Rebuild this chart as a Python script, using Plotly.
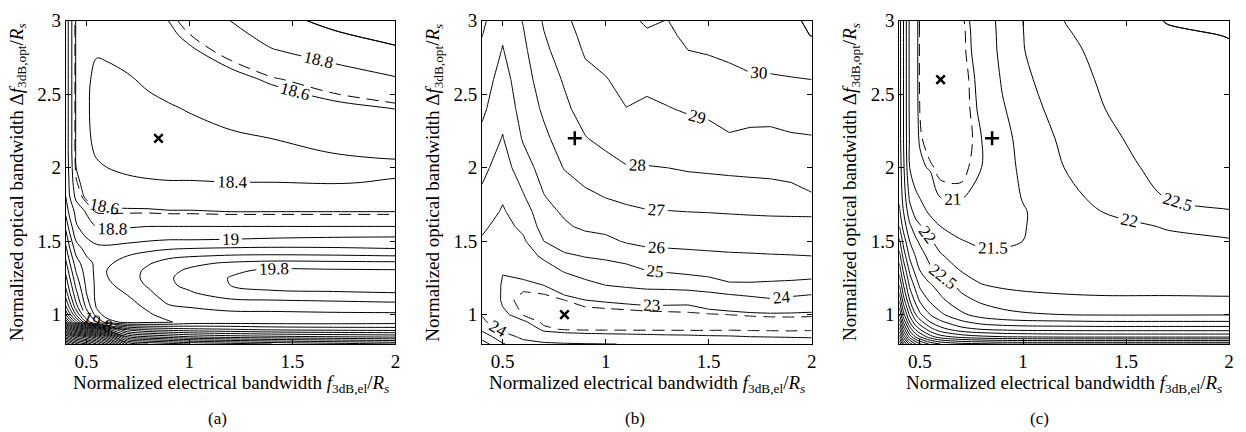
import numpy as np
import plotly.graph_objects as go

FONT = "Liberation Serif"
W, H = 1246, 432

# ---------------- Panel (a) ----------------
# grid reaches a little past the visible axes (x 0.4-2.0, y 0.8-3.0)
x_a = [0.40, 0.42, 0.45, 0.50, 0.55, 0.60, 0.70, 0.80, 0.90, 1.00, 1.20, 1.40, 1.70, 2.00, 2.10]
y_a = [0.80, 0.85, 0.90, 0.95, 1.00, 1.05, 1.10, 1.15, 1.20, 1.25, 1.30, 1.35, 1.40,
       1.45, 1.50, 1.60, 1.70, 1.80, 1.90, 2.00, 2.10, 2.20, 2.40, 2.60, 2.80, 2.90, 3.00, 3.10]
# one list per x value (bottom -> top)
z_a_cols = [
    [25.0, 24.0, 23.0, 21.8, 21.2, 20.85, 20.65, 20.5, 20.35, 20.25, 20.15, 20.05, 19.95, 19.85, 19.75, 19.55, 19.35, 19.2, 19.18, 19.16, 19.15, 19.15, 19.15, 19.15, 19.15, 19.15, 19.15, 19.15],
    [24.8, 23.8, 22.6, 21.4, 20.85, 20.55, 20.35, 20.2, 20.1, 20.0, 19.9, 19.8, 19.7, 19.6, 19.5, 19.3, 19.12, 19.0, 18.95, 18.92, 18.9, 18.9, 18.9, 18.9, 18.9, 18.9, 18.9, 18.9],
    [24.5, 23.5, 22.2, 20.9, 20.4, 20.1, 19.95, 19.85, 19.75, 19.66, 19.58, 19.5, 19.4, 19.3, 19.2, 19.02, 18.95, 18.75, 18.65, 18.6, 18.58, 18.58, 18.58, 18.58, 18.58, 18.58, 18.58, 18.58],
    [24.2, 23.2, 21.8, 20.2, 19.75, 19.56, 19.46, 19.4, 19.36, 19.33, 19.3, 19.26, 19.2, 19.12, 19.03, 18.9, 18.78, 18.56, 18.52, 18.48, 18.45, 18.43, 18.42, 18.42, 18.43, 18.44, 18.45, 18.46],
    [23.8, 22.8, 21.4, 19.6, 19.3, 19.18, 19.14, 19.14, 19.15, 19.15, 19.15, 19.16, 19.12, 19.05, 18.96, 18.79, 18.62, 18.57, 18.5, 18.43, 18.38, 18.36, 18.35, 18.37, 18.41, 18.45, 18.48, 18.51],
    [23.3, 22.3, 20.9, 19.3, 19.1, 19.07, 19.07, 19.1, 19.15, 19.19, 19.2, 19.17, 19.12, 19.04, 18.95, 18.76, 18.62, 18.55, 18.47, 18.4, 18.34, 18.31, 18.31, 18.35, 18.43, 18.47, 18.5, 18.53],
    [22.0, 21.0, 20.1, 19.12, 19.1, 19.12, 19.16, 19.22, 19.29, 19.32, 19.31, 19.27, 19.2, 19.08, 18.97, 18.78, 18.62, 18.53, 18.44, 18.36, 18.31, 18.3, 18.33, 18.38, 18.47, 18.5, 18.52, 18.54],
    [21.8, 20.8, 19.95, 19.15, 19.17, 19.23, 19.3, 19.36, 19.42, 19.45, 19.44, 19.38, 19.28, 19.14, 19.0, 18.8, 18.62, 18.52, 18.42, 18.34, 18.3, 18.31, 18.35, 18.43, 18.5, 18.53, 18.55, 18.57],
    [21.7, 20.7, 19.9, 19.18, 19.28, 19.37, 19.45, 19.52, 19.57, 19.58, 19.55, 19.48, 19.35, 19.18, 19.02, 18.8, 18.61, 18.51, 18.41, 18.33, 18.3, 18.32, 18.38, 18.47, 18.54, 18.57, 18.6, 18.63],
    [21.6, 20.6, 19.85, 19.28, 19.32, 19.4, 19.5, 19.58, 19.64, 19.66, 19.63, 19.55, 19.38, 19.2, 19.02, 18.8, 18.61, 18.51, 18.41, 18.33, 18.31, 18.33, 18.41, 18.5, 18.58, 18.63, 18.68, 18.73],
    [21.5, 20.5, 19.81, 19.3, 19.35, 19.45, 19.58, 19.72, 19.8, 19.81, 19.76, 19.63, 19.42, 19.22, 19.03, 18.8, 18.6, 18.5, 18.4, 18.34, 18.34, 18.37, 18.47, 18.55, 18.68, 18.74, 18.8, 18.86],
    [21.4, 20.45, 19.75, 19.3, 19.35, 19.46, 19.6, 19.76, 19.88, 19.92, 19.84, 19.67, 19.43, 19.23, 19.05, 18.8, 18.6, 18.5, 18.4, 18.34, 18.36, 18.4, 18.5, 18.62, 18.79, 18.86, 18.93, 18.99],
    [21.3, 20.4, 19.72, 19.3, 19.36, 19.48, 19.62, 19.78, 19.9, 19.92, 19.83, 19.66, 19.42, 19.22, 19.07, 18.8, 18.6, 18.5, 18.39, 18.35, 18.4, 18.45, 18.56, 18.7, 18.88, 18.97, 19.05, 19.13],
    [21.2, 20.35, 19.7, 19.32, 19.36, 19.5, 19.64, 19.8, 19.9, 19.9, 19.82, 19.65, 19.4, 19.2, 19.08, 18.8, 18.6, 18.5, 18.41, 18.37, 18.42, 18.47, 18.6, 18.78, 18.97, 19.06, 19.15, 19.24],
    [21.15, 20.3, 19.68, 19.33, 19.36, 19.5, 19.64, 19.8, 19.9, 19.9, 19.82, 19.65, 19.4, 19.2, 19.08, 18.8, 18.6, 18.5, 18.41, 18.37, 18.42, 18.48, 18.62, 18.81, 19.01, 19.1, 19.19, 19.28],
]
levels_a = [round(18.4 + 0.2 * k, 1) for k in range(34)]
labeled_a = [18.4, 18.6, 18.8, 19.0, 19.8]
dashed_a = 18.635
cross_a = dict(x=[0.85], y=[2.2])
# top-right corner piece of the 19 contour, traced on its own part of the grid
corner_a = dict(level=19.0, xi=11, yi=23)

# ---------------- Panel (b) ----------------
x_b = [0.40, 0.50, 0.60, 0.70, 0.80, 0.90, 1.00, 1.10, 1.20, 1.30, 1.40, 1.50, 1.60, 1.70, 1.80, 1.90, 2.00, 2.10]
y_b = [0.80, 0.85, 0.90, 0.95, 1.00, 1.10, 1.20, 1.30, 1.40, 1.50, 1.60, 1.70, 1.80,
       2.00, 2.20, 2.40, 2.60, 2.80, 2.90, 3.00, 3.10]
z_b_cols = [
    [26.5, 25.6, 24.8, 24.2, 23.95, 23.6, 23.5, 23.55, 23.7, 23.9, 24.15, 24.5, 24.8, 25.25, 25.75, 26.2, 26.5, 26.85, 27.02, 27.2, 27.35],
    [25.1, 24.4, 23.8, 23.35, 23.08, 22.93, 22.95, 23.02, 23.25, 23.5, 23.7, 23.9, 24.1, 24.55, 24.95, 25.3, 25.6, 25.95, 26.1, 26.25, 26.4],
    [24.3, 23.8, 23.4, 23.05, 22.83, 22.78, 22.9, 23.15, 23.5, 23.85, 24.2, 24.5, 24.9, 25.55, 26.1, 26.4, 26.6, 26.8, 26.92, 27.05, 27.2],
    [24.2, 23.3, 22.9, 22.8, 22.72, 22.75, 23.0, 23.5, 24.2, 25.0, 25.4, 25.65, 25.95, 26.4, 26.8, 27.15, 27.45, 27.8, 27.95, 28.1, 28.25],
    [24.1, 23.2, 22.83, 22.72, 22.68, 22.85, 23.3, 24.1, 24.85, 25.5, 25.85, 26.15, 26.45, 27.05, 27.45, 27.8, 28.1, 28.45, 28.62, 28.8, 29.0],
    [24.05, 23.15, 22.82, 22.7, 22.68, 23.0, 23.7, 24.45, 25.05, 25.55, 26.2, 26.5, 26.8, 27.4, 27.95, 28.4, 28.75, 29.1, 29.25, 29.4, 29.6],
    [24.02, 23.12, 22.82, 22.7, 22.7, 23.05, 24.0, 24.6, 25.15, 25.75, 26.3, 26.65, 27.02, 27.6, 28.3, 28.65, 28.95, 29.35, 29.52, 29.7, 29.95],
    [23.98, 23.1, 22.82, 22.7, 22.72, 23.1, 24.15, 24.75, 25.3, 26.1, 26.5, 26.85, 27.15, 27.95, 28.45, 28.98, 29.3, 29.55, 29.68, 29.8, 30.0],
    [23.95, 23.08, 22.82, 22.7, 22.75, 23.15, 24.3, 25.0, 25.7, 26.2, 26.55, 26.95, 27.25, 27.95, 28.6, 28.85, 29.2, 29.7, 29.9, 30.1, 30.3],
    [23.7, 23.06, 22.82, 22.7, 22.78, 23.12, 24.35, 25.1, 25.75, 26.22, 26.6, 26.97, 27.3, 28.0, 28.6, 28.95, 29.4, 29.7, 29.84, 29.98, 30.2],
    [23.8, 23.05, 22.82, 22.7, 22.8, 23.1, 24.45, 25.2, 25.8, 26.25, 26.65, 27.0, 27.35, 28.1, 28.55, 29.1, 29.5, 30.0, 30.18, 30.35, 30.6],
    [23.65, 23.03, 22.82, 22.7, 22.82, 23.3, 24.6, 25.3, 25.85, 26.28, 26.68, 27.02, 27.4, 28.15, 28.75, 29.15, 29.75, 30.05, 30.25, 30.45, 30.7],
    [23.6, 23.02, 22.83, 22.72, 22.85, 23.45, 24.9, 25.35, 25.9, 26.3, 26.7, 27.05, 27.45, 28.2, 28.9, 29.4, 29.8, 30.15, 30.32, 30.5, 30.75],
    [23.55, 23.0, 22.82, 22.72, 22.88, 23.7, 24.9, 25.38, 25.92, 26.33, 26.72, 27.08, 27.48, 28.25, 28.85, 29.25, 29.9, 30.3, 30.5, 30.7, 30.9],
    [23.5, 22.98, 22.82, 22.73, 22.9, 23.9, 24.85, 25.4, 25.95, 26.35, 26.75, 27.1, 27.5, 28.3, 28.8, 29.3, 29.9, 30.4, 30.7, 30.95, 31.1],
    [23.4, 22.96, 22.82, 22.74, 22.9, 23.75, 24.8, 25.4, 25.97, 26.38, 26.78, 27.1, 27.6, 28.4, 28.9, 29.4, 29.95, 30.5, 30.8, 30.9, 31.05],
    [23.3, 22.95, 22.83, 22.76, 22.88, 23.6, 24.7, 25.4, 26.0, 26.4, 26.8, 27.1, 27.9, 28.5, 28.95, 29.4, 30.0, 30.6, 31.02, 31.1, 31.2],
    [23.2, 22.93, 22.83, 22.77, 22.88, 23.6, 24.7, 25.4, 26.0, 26.4, 26.8, 27.1, 27.9, 28.5, 28.95, 29.4, 30.0, 30.65, 31.05, 31.15, 31.25],
]
levels_b = [23, 24, 25, 26, 27, 28, 29, 30, 31]
labeled_b = [23, 24, 25, 26, 27, 28, 29, 30]
dashed_b = 22.849
plus_b = dict(x=[0.85], y=[2.2])
cross_b = dict(x=[0.8], y=[1.0])
corner_b = dict(level=31.0, xi=12, yi=16)

# ---------------- Panel (c) ----------------
x_c = [0.40, 0.42, 0.45, 0.48, 0.50, 0.55, 0.60, 0.70, 0.80, 0.90, 1.00, 1.20, 1.40, 1.70, 2.00, 2.10]
y_c = [0.80, 0.85, 0.90, 0.95, 1.00, 1.10, 1.20, 1.30, 1.40, 1.50, 1.60, 1.70, 1.80,
       2.00, 2.20, 2.40, 2.60, 2.80, 2.90, 3.00, 3.10]
# one list per y value (bottom -> top)
z_c_rows = [
    [32.5, 31.2, 29.8, 29.0, 28.6, 27.9, 27.5, 27.2, 27.1, 27.0, 27.0, 27.0, 27.0, 27.0, 27.0, 27.0],
    [31.2, 29.8, 28.3, 27.4, 27.0, 26.2, 25.7, 25.3, 25.1, 25.0, 24.95, 24.9, 24.9, 24.9, 24.9, 24.9],
    [30.2, 28.8, 27.3, 26.4, 26.0, 25.2, 24.7, 24.2, 24.0, 23.9, 23.85, 23.82, 23.8, 23.8, 23.8, 23.8],
    [29.3, 27.9, 26.5, 25.6, 25.2, 24.5, 24.1, 23.6, 23.3, 23.18, 23.12, 23.08, 23.05, 23.05, 23.05, 23.05],
    [28.5, 27.2, 25.9, 25.0, 24.6, 24.0, 23.6, 23.1, 22.8, 22.65, 22.57, 22.5, 22.47, 22.47, 22.48, 22.49],
    [27.4, 26.2, 25.0, 24.3, 23.9, 23.4, 23.1, 22.65, 22.4, 22.25, 22.15, 22.08, 22.05, 22.05, 22.04, 22.04],
    [26.5, 25.5, 24.4, 23.8, 23.4, 23.05, 22.8, 22.35, 22.02, 21.93, 21.9, 21.88, 21.88, 21.88, 21.88, 21.89],
    [25.8, 24.9, 23.9, 23.3, 23.0, 22.62, 22.35, 21.98, 21.8, 21.74, 21.72, 21.75, 21.78, 21.82, 21.85, 21.87],
    [25.2, 24.3, 23.4, 22.95, 22.75, 22.3, 22.05, 21.75, 21.6, 21.57, 21.6, 21.7, 21.78, 21.85, 21.88, 21.9],
    [24.6, 23.8, 23.0, 22.6, 22.4, 22.05, 21.8, 21.52, 21.42, 21.44, 21.5, 21.68, 21.8, 21.9, 21.96, 22.0],
    [24.0, 23.3, 22.6, 22.2, 22.05, 21.7, 21.5, 21.35, 21.32, 21.38, 21.48, 21.7, 21.85, 22.03, 22.15, 22.2],
    [23.6, 23.0, 22.2, 21.8, 21.68, 21.42, 21.3, 21.2, 21.22, 21.33, 21.47, 21.75, 22.02, 22.32, 22.47, 22.5],
    [23.4, 22.8, 21.9, 21.6, 21.48, 21.2, 20.99, 20.98, 21.1, 21.32, 21.52, 21.85, 22.15, 22.52, 22.65, 22.68],
    [23.3, 22.6, 21.5, 21.15, 21.05, 20.97, 20.93, 20.93, 21.0, 21.3, 21.6, 22.0, 22.3, 22.65, 22.75, 22.78],
    [23.2, 22.5, 21.45, 21.07, 20.97, 20.9, 20.88, 20.9, 21.0, 21.35, 21.65, 22.1, 22.42, 22.7, 22.8, 22.83],
    [23.2, 22.5, 21.4, 21.05, 20.95, 20.88, 20.86, 20.9, 21.03, 21.45, 21.75, 22.25, 22.5, 22.75, 22.85, 22.88],
    [23.2, 22.5, 21.4, 21.05, 20.94, 20.87, 20.85, 20.9, 21.05, 21.55, 21.9, 22.3, 22.57, 22.8, 22.9, 22.93],
    [23.2, 22.5, 21.4, 21.05, 20.94, 20.88, 20.86, 20.92, 21.08, 21.65, 21.98, 22.4, 22.62, 22.85, 22.96, 23.0],
    [23.2, 22.5, 21.4, 21.05, 20.94, 20.89, 20.87, 20.92, 21.09, 21.67, 21.99, 22.45, 22.66, 22.93, 23.01, 23.05],
    [23.2, 22.5, 21.4, 21.05, 20.94, 20.9, 20.88, 20.93, 21.1, 21.7, 22.0, 22.5, 22.7, 23.02, 23.06, 23.1],
    [23.2, 22.5, 21.4, 21.05, 20.94, 20.92, 20.9, 20.95, 21.12, 21.75, 22.02, 22.55, 22.76, 23.1, 23.12, 23.15],
]
levels_c = [round(21 + 0.5 * k, 1) for k in range(24)]
labeled_c = [21.0, 21.5, 22.0, 22.5]
dashed_c = 20.955
cross_c = dict(x=[0.6], y=[2.6])
plus_c = dict(x=[0.85], y=[2.2])
corner_c = dict(level=23.0, xi=11, yi=16)

x_ticks = [0.5, 1, 1.5, 2]
x_ticktext = ["0.5", "1", "1.5", "2"]
y_ticks = [1, 1.5, 2, 2.5, 3]
y_ticktext = ["1", "1.5", "2", "2.5", "3"]
panel_letters = ["(a)", "(b)", "(c)"]
x_title = "Normalized electrical bandwidth <i>f</i><sub>3dB,el</sub>/<i>R<sub>s</sub></i>"
y_title = "Normalized optical bandwidth Δ<i>f</i><sub>3dB,opt</sub>/<i>R<sub>s</sub></i>"

# page-pixel layout of the three plot areas
panels_px = [(66, 397), (484, 815), (903, 1234)]
top_px, bot_px = 11, 342
letter_x_px = [218, 638, 1044]


def fx(px):
    return px / W


def fy(py):
    return 1 - py / H


z_a = np.array(z_a_cols).T.tolist()
z_b = np.array(z_b_cols).T.tolist()
z_c = z_c_rows

fig = go.Figure()


def add_level(xa, ya, x, y, z, lev, label, dash, smoothing):
    v = lev - 0.001
    fig.add_trace(go.Contour(
        x=x, y=y, z=z, xaxis=xa, yaxis=ya, autocontour=False, connectgaps=True,
        contours=dict(start=v, end=v, size=1, coloring="none", showlabels=label,
                      labelfont=dict(family=FONT, size=17, color="black"),
                      labelformat=".3~g"),
        line=dict(color="black", width=1, dash=dash, smoothing=smoothing),
        showscale=False, hoverinfo="skip"))


def add_panel(i, x, y, z, levels, labeled, dashed, smoothing, corner):
    xa = "x" if i == 0 else f"x{i+1}"
    ya = "y" if i == 0 else f"y{i+1}"
    for lev in levels:
        add_level(xa, ya, x, y, z, lev, any(abs(lev - q) < 1e-6 for q in labeled),
                  "solid", smoothing)
    add_level(xa, ya, x, y, z, dashed + 0.001, False, "12px,7px", smoothing)
    # corner piece of one level, traced on the top-right part of the same grid
    xi, yi = corner["xi"], corner["yi"]
    sub_z = [row[xi:] for row in z[yi:]]
    add_level(xa, ya, x[xi:], y[yi:], sub_z, corner["level"],
              any(abs(corner["level"] - q) < 1e-6 for q in labeled), "solid", smoothing)
    return xa, ya


def add_marker(xa, ya, pts, symbol, size):
    fig.add_trace(go.Scatter(
        x=pts["x"], y=pts["y"], xaxis=xa, yaxis=ya, mode="markers",
        marker=dict(symbol=symbol, size=size, color="black",
                    line=dict(color="black", width=2.5)),
        hoverinfo="skip", showlegend=False))


xa, ya = add_panel(0, x_a, y_a, z_a, levels_a, labeled_a, dashed_a, 1.0, corner_a)
add_marker(xa, ya, cross_a, "x-thin", 8.5)
xa, ya = add_panel(1, x_b, y_b, z_b, levels_b, labeled_b, dashed_b, 0.0, corner_b)
add_marker(xa, ya, plus_b, "cross-thin", 10)
add_marker(xa, ya, cross_b, "x-thin", 8.5)
xa, ya = add_panel(2, x_c, y_c, z_c, levels_c, labeled_c, dashed_c, 1.0, corner_c)
add_marker(xa, ya, cross_c, "x-thin", 8.5)
add_marker(xa, ya, plus_c, "cross-thin", 10)

axis_common = dict(ticks="inside", ticklen=5, tickwidth=1, tickcolor="black",
                   showline=True, linecolor="black", linewidth=1, mirror="ticks",
                   showgrid=False, zeroline=False, ticklabeloverflow="allow",
                   tickfont=dict(family=FONT, size=19, color="black"))

layout = dict(width=W, height=H, margin=dict(l=0, r=0, t=0, b=0),
              paper_bgcolor="white", plot_bgcolor="white", showlegend=False)
annotations = []
for i, (l, r) in enumerate(panels_px):
    sx = "" if i == 0 else str(i + 1)
    layout["xaxis" + sx] = dict(axis_common, domain=[fx(l), fx(r)], range=[0.4, 2.0],
                                tickvals=x_ticks, ticktext=x_ticktext, anchor="y" + sx)
    layout["yaxis" + sx] = dict(axis_common, domain=[fy(bot_px), fy(top_px)],
                                range=[0.8, 3.0], tickvals=y_ticks, ticktext=y_ticktext,
                                anchor="x" + sx)
    annotations.append(dict(text=x_title, x=fx((l + r) / 2), y=fy(383),
                            xref="paper", yref="paper", showarrow=False,
                            xanchor="center", yanchor="middle",
                            font=dict(family=FONT, size=19, color="black")))
    annotations.append(dict(text=y_title, x=fx(l - 48), y=fy((top_px + bot_px) / 2),
                            xref="paper", yref="paper", showarrow=False, textangle=-90,
                            xanchor="center", yanchor="middle",
                            font=dict(family=FONT, size=19, color="black")))
    annotations.append(dict(text=panel_letters[i], x=fx(letter_x_px[i]), y=fy(418),
                            xref="paper", yref="paper", showarrow=False,
                            xanchor="center", yanchor="middle",
                            font=dict(family=FONT, size=17, color="black")))
layout["annotations"] = annotations
fig.update_layout(**layout)

fig.write_html("out.html", config={"displayModeBar": False},
               post_script="document.body.style.margin='0px';")
